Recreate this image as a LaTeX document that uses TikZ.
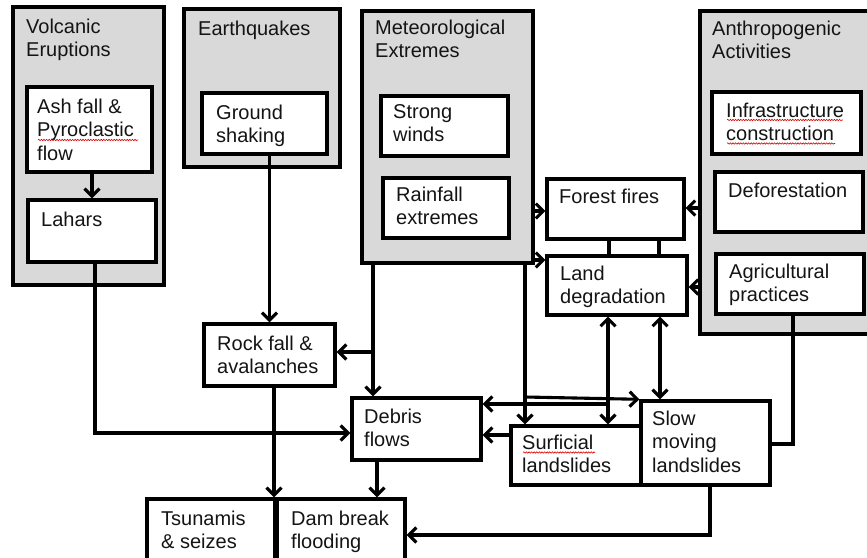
\documentclass[tikz,border=0pt]{standalone}
\usepackage{fontspec}
\setmainfont{Liberation Sans}
\usetikzlibrary{arrows.meta,fit,calc,decorations.pathmorphing}
\definecolor{groupgray}{HTML}{D9D9D9}
\definecolor{ink}{HTML}{141414}
% left-aligned stack of lines whose reference point is the first baseline
\newcommand{\boxtext}[1]{{\fontsize{20}{23.5}\selectfont\begin{tabular}[t]{@{}l@{}}#1\end{tabular}}}
\tikzset{
  grp/.style={draw=black, line width=3.4pt, fill=groupgray, inner sep=0pt},
  box/.style={draw=black, line width=3.4pt, fill=white, inner sep=0pt},
  lbl/.style={anchor=base west, inner sep=0pt, text=ink},
  barb/.tip={Straight Barb[length=7.5pt,width=15pt]},
  arr/.style={line width=3.1pt, -barb},
  dbl/.style={line width=3.1pt, barb-barb},
  link/.style={line width=3.1pt},
  spell/.style={draw=red!85!black, line width=0.6pt, decorate,
    decoration={snake, amplitude=0.7pt, segment length=2.6pt}}
}
\begin{document}
\begin{tikzpicture}[x=1pt,y=-1pt]
\useasboundingbox (0,0) rectangle (867,557);
\fill[white] (0,0) rectangle (867,557);
\clip (0,0) rectangle (867,557);

% hazard groups
\node[grp, fit={(13,7) (164,285)}] (volc) {};
\node[grp, fit={(184,9) (340,167)}] (quake) {};
\node[grp, fit={(362,11) (533,263)}] (meteo) {};
\node[grp, fit={(700,11) (885,334)}] (anthro) {};

% boxes inside the groups
\node[box, fit={(27,87) (152,172)}] (ash) {};
\node[box, fit={(28,200) (156,262)}] (lahars) {};
\node[box, fit={(202,93) (327,154)}] (ground) {};
\node[box, fit={(381,96) (508,156)}] (winds) {};
\node[box, fit={(383,178) (509,238)}] (rain) {};
\node[box, fit={(712,92) (861,154)}] (infra) {};
\node[box, fit={(715,172) (863,232)}] (defor) {};
\node[box, fit={(716,254) (864,314)}] (agri) {};

% processes
\node[box, line width=3.1pt, fit={(547,179) (684,239)}] (fire) {};
\node[box, line width=3.1pt, fit={(547,256) (687,315)}] (landdeg) {};
\node[box, fit={(204,324) (335,386)}] (rock) {};
\node[box, fit={(352,398) (481,460)}] (debris) {};
\node[box, fit={(511,426) (641,485)}] (surf) {};
\node[box, fit={(641,401) (770,485)}] (slow) {};
\node[box, fit={(147,499) (277,575)}] (tsu) {};
\node[box, fit={(277,499) (405,575)}] (dam) {};
\draw[line width=5.5pt] (dam.north west) -- (dam.south west);

% routing columns and rows
\coordinate (col-lahar) at (95,0);
\coordinate (col-mL) at (373,0);
\coordinate (col-mR) at (525,0);
\coordinate (col-ls) at (608,0);
\coordinate (col-lm) at (660,0);
\coordinate (col-f1) at (609,0);
\coordinate (col-f2) at (659,0);
\coordinate (col-rock) at (274,0);
\coordinate (col-deb) at (377,0);
\coordinate (col-agri) at (793,0);
\coordinate (col-slow) at (710,0);
\coordinate (row-lahar) at (0,433);
\coordinate (row-rock) at (0,352);
\coordinate (row-fire) at (0,211);
\coordinate (row-land) at (0,260);
\coordinate (row-ff) at (0,208);
\coordinate (row-ld) at (0,287);
\coordinate (row-m2s) at (0,397);
\coordinate (row-l2d) at (0,404);
\coordinate (row-s2d) at (0,435);
\coordinate (row-agri) at (0,444);
\coordinate (row-dam) at (0,535);

% connectors
\draw[arr] (ash.south -| lahars.north) -- (lahars.north);
\draw[arr] (ground.south -| rock.north) -- (rock.north);
\draw[arr] (lahars.south -| col-lahar) |- (debris.west |- row-lahar);
\draw[arr] (meteo.east |- row-fire) -- (fire.west |- row-fire);
\draw[arr] (meteo.east |- row-land) -- (landdeg.west |- row-land);
\draw[arr] (anthro.west |- row-ff) -- (fire.east |- row-ff);
\draw[arr] (anthro.west |- row-ld) -- (landdeg.east |- row-ld);
\draw[link] (fire.south -| col-f1) -- (landdeg.north -| col-f1);
\draw[link] (fire.south -| col-f2) -- (landdeg.north -| col-f2);
\draw[arr] (meteo.south -| col-mL) -- (debris.north -| col-mL);
\draw[arr] (col-mL |- row-rock) -- (rock.east |- row-rock);
\draw[arr] (meteo.south -| col-mR) -- (surf.north -| col-mR);
\draw[arr] (col-mR |- row-m2s) -- (slow.north west);
\draw[dbl] (landdeg.south -| col-ls) -- (surf.north -| col-ls);
\draw[dbl] (landdeg.south -| col-lm) -- (slow.north -| col-lm);
\draw[arr] (col-ls |- row-l2d) -- (debris.east |- row-l2d);
\draw[arr] (surf.west |- row-s2d) -- (debris.east |- row-s2d);
\draw[link] (agri.south -| col-agri) |- (slow.east |- row-agri);
\draw[arr] (slow.south -| col-slow) |- (dam.east |- row-dam);
\draw[arr] (rock.south -| col-rock) -- (dam.north -| col-rock);
\draw[arr] (debris.south -| col-deb) -- (dam.north -| col-deb);

% labels
\node[lbl] (t-volc) at (26,33) {\boxtext{Volcanic\\Eruptions}};
\node[lbl] (t-ash) at (37,113) {\boxtext{Ash fall \&\\Pyroclastic\\flow}};
\node[lbl] (t-lahars) at (41,226) {\boxtext{Lahars}};
\node[lbl] (t-quake) at (198,35) {\boxtext{Earthquakes}};
\node[lbl] (t-ground) at (216,119) {\boxtext{Ground\\shaking}};
\node[lbl] (t-meteo) at (375,34) {\boxtext{Meteorological\\Extremes}};
\node[lbl] (t-winds) at (393,118) {\boxtext{Strong\\winds}};
\node[lbl] (t-rain) at (396,201) {\boxtext{Rainfall\\extremes}};
\node[lbl] (t-fire) at (559,203) {\boxtext{Forest fires}};
\node[lbl] (t-landdeg) at (560,280) {\boxtext{Land\\degradation}};
\node[lbl] (t-anthro) at (712,35) {\boxtext{Anthropogenic\\Activities}};
\node[lbl] (t-infra) at (726,117) {\boxtext{Infrastructure\\construction}};
\node[lbl] (t-defor) at (728,197) {\boxtext{Deforestation}};
\node[lbl] (t-agri) at (729,278) {\boxtext{Agricultural\\practices}};
\node[lbl] (t-rock) at (217,350) {\boxtext{Rock fall \&\\avalanches}};
\node[lbl] (t-debris) at (364,423) {\boxtext{Debris\\flows}};
\node[lbl] (t-surf) at (522,449) {\boxtext{Surficial\\landslides}};
\node[lbl] (t-slow) at (652,425) {\boxtext{Slow\\moving\\landslides}};
\node[lbl] (t-tsu) at (161,525) {\boxtext{Tsunamis\\\& seizes}};
\node[lbl] (t-dam) at (291,525) {\boxtext{Dam break\\flooding}};

% spell-check squiggles under flagged words
\draw[spell] (38,140) -- (138,140);
\draw[spell] (727,120) -- (843,120);
\draw[spell] (727,143.5) -- (835,143.5);
\draw[spell] (523,452.5) -- (595,452.5);
\end{tikzpicture}
\end{document}
